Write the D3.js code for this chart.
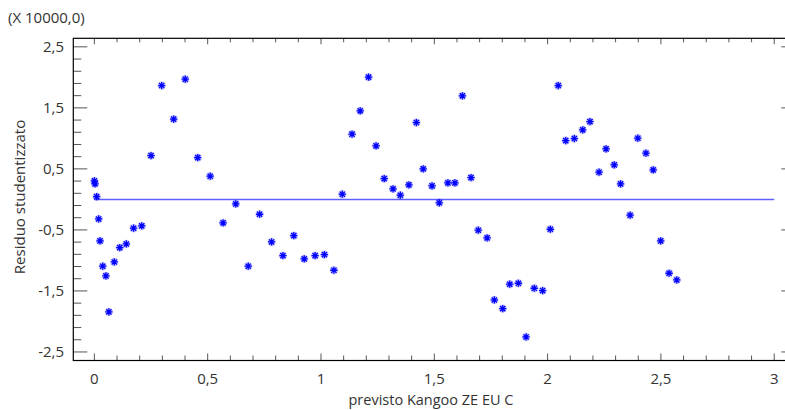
<!DOCTYPE html>
<html>
<head>
<meta charset="utf-8">
<script src="https://cdn.jsdelivr.net/npm/d3@7"></script>
<style>
  html, body { margin: 0; padding: 0; background: #fff; }
  svg { display: block; }
  text { font-family: "Open Sans", "Noto Sans", sans-serif; }
</style>
</head>
<body>
<svg id="chart" width="785" height="410"></svg>
<script>
// ---- data ----
const xValues = [0.000, 0.003, 0.010, 0.019, 0.025, 0.037, 0.051, 0.064, 0.088, 0.112,
  0.141, 0.173, 0.209, 0.250, 0.297, 0.350, 0.401, 0.456, 0.511, 0.568,
  0.624, 0.679, 0.729, 0.782, 0.832, 0.880, 0.926, 0.974, 1.015, 1.057,
  1.094, 1.137, 1.173, 1.210, 1.243, 1.279, 1.318, 1.350, 1.388, 1.421,
  1.451, 1.490, 1.522, 1.560, 1.591, 1.624, 1.662, 1.694, 1.733, 1.765,
  1.802, 1.833, 1.871, 1.905, 1.941, 1.978, 2.012, 2.047, 2.080, 2.118,
  2.155, 2.187, 2.227, 2.258, 2.294, 2.322, 2.364, 2.398, 2.434, 2.466,
  2.499, 2.536, 2.570];
const residuals = [0.303, 0.254, 0.046, -0.320, -0.680, -1.095, -1.254, -1.844, -1.025, -0.790,
  -0.730, -0.472, -0.434, 0.718, 1.866, 1.315, 1.970, 0.685, 0.380, -0.385,
  -0.074, -1.095, -0.243, -0.697, -0.921, -0.593, -0.975, -0.921, -0.905, -1.161,
  0.085, 1.069, 1.451, 2.003, 0.877, 0.341, 0.172, 0.069, 0.238, 1.259,
  0.500, 0.221, -0.056, 0.270, 0.270, 1.697, 0.357, -0.505, -0.631, -1.648,
  -1.790, -1.390, -1.374, -2.254, -1.456, -1.495, -0.489, 1.866, 0.964, 0.997,
  1.139, 1.275, 0.446, 0.828, 0.566, 0.254, -0.259, 1.003, 0.757, 0.484,
  -0.680, -1.210, -1.320];
const xTickValues = [0, 0.5, 1, 1.5, 2, 2.5, 3];
const xTickLabels = ["0", "0,5", "1", "1,5", "2", "2,5", "3"];
const yTickValues = [2.5, 1.5, 0.5, -0.5, -1.5, -2.5];
const yTickLabels = ["2,5", "1,5", "0,5", "-0,5", "-1,5", "-2,5"];
const fitLineX = [0, 3];
const fitLineY = [0, 0];
const xTitle = "previsto Kangoo ZE EU C";
const yTitle = "Residuo studentizzato";
const scaleNote = "(X 10000,0)";

// ---- layout ----
const svg = d3.select("#chart");
const L = 73.3, R = 795.3, T = 38.3, B = 360.5;
const x = d3.scaleLinear().domain([-0.093, 3.093]).range([L, R]);
const y = d3.scaleLinear().domain([-2.64, 2.64]).range([B, T]);

const tickColor = "#555";
const labelColor = "#333";

// minor tick values
const xMinor = d3.range(0, 31).map(i => i / 10);
const yMinor = d3.range(-13, 14).map(i => i / 5 + 0.1).filter(v => v > -2.64 && v < 2.64);
const isMajorY = v => yTickValues.some(t => Math.abs(t - v) < 1e-6);
const isMajorX = v => xTickValues.some(t => Math.abs(t - v) < 1e-6);

const g = svg.append("g");

// bottom ticks (pointing up)
g.selectAll(".xb").data(xMinor).join("line")
  .attr("x1", d => x(d)).attr("x2", d => x(d))
  .attr("y1", B).attr("y2", d => B - (isMajorX(d) ? 7 : 5))
  .attr("stroke", tickColor).attr("stroke-width", 1);
// top ticks (pointing down)
g.selectAll(".xt").data(xMinor).join("line")
  .attr("x1", d => x(d)).attr("x2", d => x(d))
  .attr("y1", T).attr("y2", d => T + (isMajorX(d) ? 6 : 4))
  .attr("stroke", tickColor).attr("stroke-width", 1);
// left ticks (pointing right)
g.selectAll(".yl").data(yMinor).join("line")
  .attr("x1", L).attr("x2", d => L + (isMajorY(d) ? 14 : 8))
  .attr("y1", d => y(d)).attr("y2", d => y(d))
  .attr("stroke", tickColor).attr("stroke-width", 1);
// right ticks (pointing left)
g.selectAll(".yr").data(yMinor).join("line")
  .attr("x1", R).attr("x2", d => R - (isMajorY(d) ? 14 : 8))
  .attr("y1", d => y(d)).attr("y2", d => y(d))
  .attr("stroke", tickColor).attr("stroke-width", 1);

// frame
g.append("rect").attr("x", L).attr("y", T).attr("width", R - L).attr("height", B - T)
  .attr("fill", "none").attr("stroke", "#000").attr("stroke-width", 1.2);

// tick labels
g.selectAll(".xl").data(xTickValues).join("text")
  .attr("x", d => x(d)).attr("y", 384)
  .attr("text-anchor", "middle").attr("font-size", 15).attr("fill", labelColor)
  .text((d, i) => xTickLabels[i]);
g.selectAll(".ylab").data(yTickValues).join("text")
  .attr("x", 64).attr("y", d => y(d) + 5)
  .attr("text-anchor", "end").attr("font-size", 15).attr("fill", labelColor)
  .text((d, i) => yTickLabels[i]);

// titles
svg.append("text").attr("x", 431).attr("y", 405).attr("text-anchor", "middle")
  .attr("font-size", 14.5).attr("fill", labelColor).text(xTitle);
svg.append("text").attr("transform", "translate(25,197) rotate(-90)")
  .attr("text-anchor", "middle").attr("font-size", 15).attr("fill", labelColor).text(yTitle);
svg.append("text").attr("x", 8).attr("y", 23).attr("font-size", 15)
  .attr("fill", labelColor).text(scaleNote);

// fitted line
const line = d3.line().x(d => x(d[0])).y(d => y(d[1]));
svg.append("path").datum(fitLineX.map((v, i) => [v, fitLineY[i]]))
  .attr("d", line).attr("stroke", "#6060ff").attr("stroke-width", 1.5).attr("fill", "none");

// points (8-spoke asterisk)
const r = 3.6, rd = r * 0.72;
const star = `M${-r},0L${r},0M0,${-r}L0,${r}M${-rd},${-rd}L${rd},${rd}M${-rd},${rd}L${rd},${-rd}`;
const pts = svg.append("g").selectAll("g").data(xValues.map((v, i) => [v, residuals[i]])).join("g")
  .attr("transform", d => `translate(${x(d[0])},${y(d[1])})`);
pts.append("circle").attr("r", 4.2).attr("fill", "#0000ff").attr("opacity", 0.22);
pts.append("path").attr("d", star).attr("stroke", "#0000ff").attr("stroke-width", 1.3).attr("fill", "none");
</script>
</body>
</html>
